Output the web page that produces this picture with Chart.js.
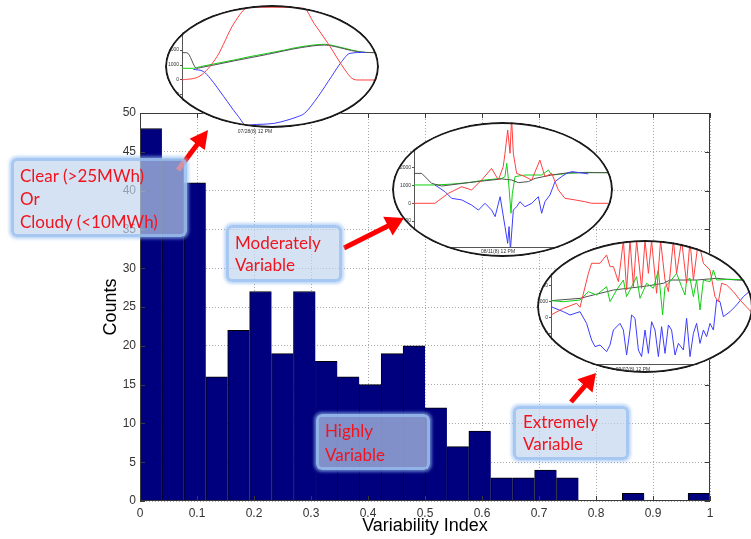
<!DOCTYPE html>
<html>
<head>
<meta charset="utf-8">
<title>Variability Index histogram</title>
<script src="https://cdn.jsdelivr.net/npm/chart.js@4.4.0/dist/chart.umd.min.js"></script>
<style>
  html, body { margin: 0; padding: 0; background: #fff; }
  #wrap { position: relative; width: 751px; height: 539px; overflow: hidden; }
  #main { position: absolute; left: 0; top: 0; }
  .ellipse { position: absolute; border-radius: 50%; overflow: hidden; background: #fff; }
  .ellipse canvas { position: absolute; }
  .ring { position: absolute; left: 0; top: 0; right: 0; bottom: 0; box-sizing: border-box;
          border: 2px solid #1a1a1a; border-radius: 50%; }
  .stamp { position: absolute; font: 5px 'Liberation Sans', Arial, sans-serif; color: #333;
           white-space: nowrap; transform: translate(-50%, -50%); }
  #arrows { position: absolute; left: 0; top: 0; }
  .note { position: absolute; box-sizing: border-box; background: rgba(192, 212, 237, 0.68);
          border: 3px solid rgba(150, 190, 240, 0.75); border-radius: 6px;
          box-shadow: 0 0 3px 2px rgba(150, 190, 240, 0.6); }
  .note-text { position: absolute; font-family: Lato, 'Open Sans', sans-serif; font-size: 17px;
               color: #f0141e; white-space: nowrap; }
</style>
</head>
<body>
<div id="wrap">
  <canvas id="main" width="751" height="539"></canvas>

  <div class="ellipse" style="left:165px; top:5px; width:214px; height:123px;">
    <canvas id="inset-clear"></canvas><div class="ring"></div>
  </div>
  <div class="stamp" style="left:255px; top:131px;">07/28(8) 12 PM</div>

  <div class="ellipse" style="left:392px; top:122px; width:221px; height:135px;">
    <canvas id="inset-mod"></canvas><div class="ring"></div>
  </div>
  <div class="stamp" style="left:498px; top:251px;">08/11(8) 12 PM</div>

  <div class="ellipse" style="left:537px; top:240px; width:216px; height:133px;">
    <canvas id="inset-ext"></canvas><div class="ring"></div>
  </div>
  <div class="stamp" style="left:633px; top:369px;">09/07(8) 12 PM</div>

  <svg id="arrows" width="751" height="539"></svg>

  <div class="note" style="left:11px; top:158px; width:176px; height:79px;"></div>
  <div class="note-text" style="left:20px; top:164px; line-height:23px;">Clear (&gt;25MWh)<br>Or<br>Cloudy (&lt;10MWh)</div>

  <div class="note" style="left:226px; top:225px; width:116px; height:57px;"></div>
  <div class="note-text" style="left:235px; top:232px; line-height:22px;">Moderately<br>Variable</div>

  <div class="note" style="left:316px; top:414px; width:114px; height:56px;"></div>
  <div class="note-text" style="left:325px; top:419px; line-height:24px;">Highly<br>Variable</div>

  <div class="note" style="left:513px; top:406px; width:116px; height:54px;"></div>
  <div class="note-text" style="left:523px; top:411px; line-height:22px;">Extremely<br>Variable</div>
</div>

<script>
// Histogram: 26 equal bins between 0 and 1
const binCounts = [48, 44, 41, 16, 22, 27, 19, 27, 18, 16, 15, 19, 20, 12, 7, 9, 3, 3, 4, 3, 0, 0, 1, 0, 0, 1];
const binLabels = binCounts.map((_, i) =>
  (i / binCounts.length).toFixed(3) + '-' + ((i + 1) / binCounts.length).toFixed(3));
const xTickValues = [0, 0.1, 0.2, 0.3, 0.4, 0.5, 0.6, 0.7, 0.8, 0.9, 1];
const yTickValues = [0, 5, 10, 15, 20, 25, 30, 35, 40, 45, 50];

// Inset traces, [time index 0-100, value]
const clearRed = [[0, 0], [9, 270], [17.5, 1560], [26, 3780], [33.5, 4850], [60.5, 4850], [66, 3780], [73, 2440], [81.5, 670], [85, 110], [88, 0], [100, 0]];
const clearBlue = [[5.7, 710], [10.8, 560], [14.1, 110], [20.9, -1110], [27.6, -2330], [32.7, -3070], [34.3, -3000], [40, -2950], [46.1, -2890], [52, -2700], [57.9, -2440], [61.3, -2220], [68, -1110], [74.7, 220], [79.8, 1220], [84, 1780], [91.6, 1840]];
const clearGreen = [[0, 780], [5.7, 780], [9.1, 890], [17, 1100], [25.9, 1330], [34, 1560], [42.8, 1780], [51, 1990], [59.6, 2220], [71.4, 2380], [78.1, 2220], [84.8, 2000], [91.6, 1840], [100, 1820]];
const clearBlack = [[0, 1820], [2.4, 1820], [7.4, 780], [9.1, 820], [25.9, 1270], [42.8, 1710], [59.6, 2160], [71.4, 2330], [78.1, 2180], [84.8, 1960], [91.6, 1840], [100, 1820]];
const clearYTicks = [-3000, -2000, -1000, 0, 1000, 2000, 3000, 4000];

const modRed = [[0, 0], [10.8, 0], [17.7, 560], [24.6, 930], [29.7, 750], [34.9, 1310], [40, 1960], [43.5, 1310], [46, 2060], [46.9, 2810], [48.3, 4120], [49.5, 2810], [50.3, 4800], [51.2, 2810], [52.9, 1680], [57.2, 1500], [60.7, 1310], [64.9, 2430], [67.5, 1500], [71, 1680], [74.4, 750], [77.8, 280], [83, 190], [88.1, 90], [91.6, 0], [100, 0]];
const modBlue = [[10.8, 1030], [16, 650], [19.4, 280], [24.6, 190], [29.7, -100], [33.2, -380], [36.6, 0], [40, -380], [41.8, -750], [44.4, 370], [46.9, -1310], [48.3, -2250], [49, -1310], [49.7, -2630], [51.2, -380], [52.9, -190], [54.6, 90], [57.2, -190], [60.7, 0], [64.1, 370], [65.8, -560], [67.5, 90], [70.1, 470], [72.7, 1220], [76.1, 1500], [78.7, 1680], [81.3, 1780], [88.1, 1680], [89.8, 1650]];
const modGreen = [[0, 1030], [10.8, 1030], [19.4, 1080], [28, 1160], [36.6, 1310], [45.2, 1400], [46.9, 1500], [47.8, 2250], [48.6, 1400], [50, -560], [50.7, 560], [52.1, 1500], [57.2, 1590], [65.8, 1590], [69.3, 1870], [71, 1590], [79.6, 1680], [88.1, 1740], [100, 1720]];
const modBlack = [[0, 1680], [4, 1680], [9.1, 1120], [14.3, 970], [28, 1160], [45.2, 1370], [50.3, 1310], [53.8, 1160], [59, 1220], [62.4, 1400], [71, 1590], [79.6, 1720], [100, 1720]];
const modYTicks = [-2000, -1000, 0, 1000, 2000, 3000, 4000];

const extRed = [[0, 290], [6.2, 1120], [12.8, 1750], [14.5, 1250], [18.7, 5500], [20.3, 6750], [24.5, 6750], [27.8, 7790], [29.5, 6330], [31.2, 6330], [33.7, 4450], [36.2, 9600], [37.8, 3410], [39.5, 9600], [41.2, 3830], [42.8, 9600], [45.3, 3620], [47, 9600], [48.7, 5500], [50.3, 9600], [52.8, 3000], [54.8, 9600], [57, 4660], [58.7, 3200], [61.2, 9600], [62.8, 5500], [65.3, 9600], [67.8, 4250], [69.5, 9600], [71.2, 4660], [73.7, 9600], [76.2, 6750], [79.5, 5910], [82, 2580], [83.7, 1950], [85.3, 4250], [87.8, 4040], [91.2, 3200], [94.5, 2160], [100, 700]];
const extGreen = [[0, 2080], [6.2, 1950], [14.5, 2160], [18.7, 3200], [22.8, 2790], [27.8, 3830], [29.5, 1950], [32.8, 3410], [36.2, 4660], [37.8, 2580], [39.5, 3410], [42.8, 5080], [44.5, 2370], [47.8, 4250], [51.2, 3620], [53.7, 5910], [55.8, 290], [57, 3830], [59.5, 4450], [62.8, 5500], [65.3, 3830], [67, 2790], [67.8, 4660], [69.5, 4870], [71.2, 2580], [72.8, 4660], [74.5, 910], [76.2, 4660], [79.5, 4450], [81.2, 5910], [82.8, 4660], [89.5, 4750], [100, 4660]];
const extBlack = [[0, 2080], [14.5, 2370], [31.2, 3410], [47.8, 3910], [56.2, 4250], [59.5, 4660], [72.8, 4660], [82.8, 4870], [92.8, 4660], [100, 4580]];
const extBlue = [[0, 1330], [6.2, 700], [9.5, 290], [14.5, 700], [17.8, -760], [20.3, -2840], [22, -3670], [24.5, -3460], [27.8, -4300], [29.5, -3460], [31.2, -1590], [34.5, -760], [36.2, -1590], [37.8, -4710], [39.5, -1590], [40.3, 290], [42, -130], [43.7, -4090], [45.3, -4920], [47, -1590], [48.7, -4510], [50.3, -550], [52, -1590], [53.7, -4920], [55.3, -1170], [57, -4510], [58.7, -960], [60.3, -1590], [62, -4710], [63.7, -3260], [66.2, -4090], [67.8, -130], [69.5, -4920], [71.2, -2010], [72.8, -760], [74.5, -3260], [76.2, -1590], [77.8, -2420], [79.5, -760], [81.2, -1590], [82.8, 2160], [84.5, 1950], [86.2, 80], [89.5, 700], [92.8, 1540], [96.2, 2580], [100, 3410]];
const extYTicks = [-4000, -2000, 0, 2000, 4000, 6000, 8000];

const traceColors = { red: '#ff4040', blue: '#3c3cff', green: '#10d010', black: '#505050' };

// MATLAB-like box with inward tick marks
const framePlugin = {
  id: 'frame',
  afterDraw(chart) {
    const { ctx, chartArea: a, scales } = chart;
    ctx.save();
    ctx.strokeStyle = '#3a3a3a';
    ctx.lineWidth = 1;
    ctx.strokeRect(a.left + 0.5, a.top + 0.5, a.right - a.left - 1, a.bottom - a.top - 1);
    ctx.beginPath();
    xTickValues.forEach(v => {
      const x = Math.round(scales.xv.getPixelForValue(v)) + 0.5;
      ctx.moveTo(x, a.bottom); ctx.lineTo(x, a.bottom - 5);
      ctx.moveTo(x, a.top); ctx.lineTo(x, a.top + 5);
    });
    yTickValues.forEach(v => {
      const y = Math.round(scales.y.getPixelForValue(v)) + 0.5;
      ctx.moveTo(a.left, y); ctx.lineTo(a.left + 5, y);
      ctx.moveTo(a.right, y); ctx.lineTo(a.right - 5, y);
    });
    ctx.stroke();
    ctx.restore();
  }
};

const tickFont = { family: "'Liberation Sans', Arial, sans-serif", size: 12 };
const titleFont = { family: "'Liberation Sans', Arial, sans-serif", size: 18 };

new Chart(document.getElementById('main'), {
  type: 'bar',
  data: {
    labels: binLabels,
    datasets: [{
      data: binCounts,
      backgroundColor: '#00007f',
      borderColor: '#000000',
      borderWidth: { top: 1, left: 1, right: 0, bottom: 0 },
      barPercentage: 1,
      categoryPercentage: 1
    }]
  },
  options: {
    responsive: false,
    devicePixelRatio: 1,
    animation: false,
    events: [],
    layout: { padding: { left: 0, top: 113, right: 41, bottom: 0 } },
    plugins: { legend: { display: false }, tooltip: { enabled: false } },
    scales: {
      x: { display: false },
      xv: {
        type: 'linear', axis: 'x', position: 'bottom', min: 0, max: 1, offset: false,
        afterBuildTicks: s => { s.ticks = xTickValues.map(v => ({ value: v })); },
        afterFit: s => { s.height = 38; },
        ticks: { font: tickFont, color: '#333', padding: 5, maxRotation: 0, callback: v => String(v) },
        grid: { color: '#a8a8a8', drawTicks: false, offset: false },
        border: { display: false, dash: [1, 2] },
        title: { display: true, text: 'Variability Index', font: titleFont, color: '#000', padding: { top: 0, bottom: 2 } }
      },
      y: {
        min: 0, max: 50,
        afterBuildTicks: s => { s.ticks = yTickValues.map(v => ({ value: v })); },
        afterFit: s => { s.width = 140; },
        ticks: { font: tickFont, color: '#333', padding: 4, callback: v => String(v) },
        grid: { color: '#a8a8a8', drawTicks: false },
        border: { display: false, dash: [1, 2] },
        title: { display: true, text: 'Counts', font: titleFont, color: '#000', padding: { top: 100, bottom: 0 } }
      }
    }
  },
  plugins: [framePlugin]
});

// Small clipped line charts inside the ellipses
function drawInset(id, box, plot, yMin, yMax, yTicks, traces, smooth) {
  const cv = document.getElementById(id);
  const cLeft = box.left - 10, cTop = box.top - 10;
  cv.width = box.w + 20;
  cv.height = box.h + 20;
  cv.style.left = '-10px';
  cv.style.top = '-10px';
  new Chart(cv, {
    type: 'line',
    data: {
      datasets: traces.map(t => ({
        data: t.points.map(p => ({ x: p[0], y: p[1] })),
        borderColor: t.color,
        borderWidth: 1,
        pointRadius: 0,
        fill: false,
        cubicInterpolationMode: smooth ? 'monotone' : 'default'
      }))
    },
    options: {
      responsive: false,
      devicePixelRatio: 1,
      animation: false,
      events: [],
      layout: { padding: { left: 0, top: plot.top - cTop, right: cLeft + cv.width - plot.right, bottom: cTop + cv.height - plot.bottom } },
      plugins: { legend: { display: false }, tooltip: { enabled: false } },
      scales: {
        x: {
          type: 'linear', min: 0, max: 100,
          afterFit: s => { s.height = 0; },
          ticks: { display: false },
          grid: { display: false },
          border: { color: '#555', width: 1 }
        },
        y: {
          min: yMin, max: yMax,
          afterBuildTicks: s => { s.ticks = yTicks.map(v => ({ value: v })); },
          afterFit: s => { s.width = plot.left - cLeft; },
          ticks: { font: { family: "'Liberation Sans', Arial, sans-serif", size: 5 }, color: '#333', padding: 1, callback: v => String(v) },
          grid: { drawOnChartArea: false, tickLength: 2, color: '#555' },
          border: { color: '#555', width: 1 }
        }
      }
    }
  });
}

drawInset('inset-clear', { left: 165, top: 5, w: 214, h: 123 }, { left: 182, top: 7, right: 382, bottom: 129 },
  -3267, 4867, clearYTicks, [
    { points: clearRed, color: traceColors.red },
    { points: clearBlue, color: traceColors.blue },
    { points: clearBlack, color: traceColors.black },
    { points: clearGreen, color: traceColors.green }
  ], true);

drawInset('inset-mod', { left: 392, top: 122, w: 221, h: 135 }, { left: 414, top: 121, right: 608, bottom: 247 },
  -2455, 4624, modYTicks, [
    { points: modRed, color: traceColors.red },
    { points: modBlue, color: traceColors.blue },
    { points: modBlack, color: traceColors.black },
    { points: modGreen, color: traceColors.green }
  ], false);

drawInset('inset-ext', { left: 537, top: 240, w: 216, h: 133 }, { left: 551, top: 242, right: 751, bottom: 364 },
  -5838, 9412, extYTicks, [
    { points: extRed, color: traceColors.red },
    { points: extBlue, color: traceColors.blue },
    { points: extGreen, color: traceColors.green },
    { points: extBlack, color: traceColors.black }
  ], false);

// Red callout arrows
const arrowSpecs = [
  { tail: [178, 170], tip: [208, 130], shaft: 5, headLen: 18, headW: 19 },
  { tail: [344, 248], tip: [404, 218], shaft: 5, headLen: 18, headW: 21 },
  { tail: [571, 402], tip: [596, 373], shaft: 5, headLen: 17, headW: 20 }
];
const svg = document.getElementById('arrows');
arrowSpecs.forEach(a => {
  const dx = a.tip[0] - a.tail[0], dy = a.tip[1] - a.tail[1];
  const len = Math.hypot(dx, dy);
  const ux = dx / len, uy = dy / len, nx = -uy, ny = ux;
  const bx = a.tip[0] - ux * a.headLen, by = a.tip[1] - uy * a.headLen;
  const s = a.shaft / 2, h = a.headW / 2;
  const pts = [
    [a.tail[0] + nx * s, a.tail[1] + ny * s],
    [bx + nx * s, by + ny * s],
    [bx + nx * h, by + ny * h],
    a.tip,
    [bx - nx * h, by - ny * h],
    [bx - nx * s, by - ny * s],
    [a.tail[0] - nx * s, a.tail[1] - ny * s]
  ];
  const poly = document.createElementNS('http://www.w3.org/2000/svg', 'polygon');
  poly.setAttribute('points', pts.map(p => p[0].toFixed(1) + ',' + p[1].toFixed(1)).join(' '));
  poly.setAttribute('fill', '#ff0000');
  svg.appendChild(poly);
});
</script>
</body>
</html>
